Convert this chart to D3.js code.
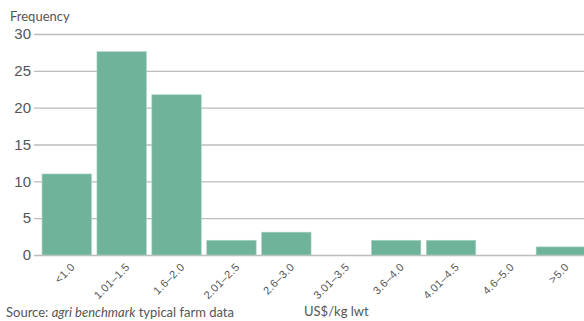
<!DOCTYPE html>
<html>
<head>
<meta charset="utf-8">
<script src="https://cdn.jsdelivr.net/npm/d3@7"></script>
<style>
  html, body { margin: 0; padding: 0; background: #fff; }
  svg { display: block; font-family: Lato, "Open Sans", sans-serif; }
</style>
</head>
<body>
<svg id="chart" width="584" height="321"></svg>
<script>
// Price bands (US$/kg liveweight) and number of typical farms in each
const categories = ["<1.0", "1.01–1.5", "1.6–2.0", "2.01–2.5", "2.6–3.0",
                    "3.01–3.5", "3.6–4.0", "4.01–4.5", "4.6–5.0", ">5.0"];
const frequency = [11, 27.6, 21.75, 2, 3.1, 0, 2, 2, 0, 1.1];
const yTicks = [0, 5, 10, 15, 20, 25, 30];

const svg = d3.select("#chart");
const barColor = "#6fb39a";
const gridColor = "#bdbdbd";
const textColor = "#555";

const x = d3.scaleBand()
  .domain(categories)
  .range([39.3, 588.3])
  .paddingInner(0.1)
  .paddingOuter(0.05);

const y = d3.scaleLinear()
  .domain([0, 30])
  .range([255, 34]);

// Horizontal gridlines with value labels
const yAxis = d3.axisLeft(y)
  .tickValues(yTicks)
  .tickSize(-(584 - 34))
  .tickPadding(5);

const gy = svg.append("g")
  .attr("transform", "translate(34,0)")
  .call(yAxis);
gy.select(".domain").remove();
gy.selectAll(".tick line")
  .attr("stroke", gridColor)
  .attr("stroke-width", 1.4);
gy.selectAll(".tick text")
  .attr("fill", textColor)
  .attr("font-size", 15)
  .attr("x", -3);

// Bars
svg.append("g")
  .selectAll("rect")
  .data(categories.map((c, i) => ({ c, v: frequency[i] })))
  .join("rect")
  .attr("x", d => x(d.c))
  .attr("y", d => y(d.v))
  .attr("width", x.bandwidth())
  .attr("height", d => y(0) - y(d.v))
  .attr("fill", barColor)
  .attr("stroke", "#a9d3c3")
  .attr("stroke-width", 0.6);

// Category labels, rotated
const gx = svg.append("g")
  .attr("transform", "translate(0,255)")
  .call(d3.axisBottom(x).tickSize(0).tickPadding(0));
gx.select(".domain").remove();
gx.selectAll(".tick text")
  .attr("fill", textColor)
  .attr("font-size", 11)
  .attr("letter-spacing", 0.3)
  .attr("text-anchor", "end")
  .attr("dy", "0.35em")
  .attr("transform", "translate(6,10) rotate(-45)");

// Axis titles
svg.append("text")
  .attr("x", 10)
  .attr("y", 21)
  .attr("fill", textColor)
  .attr("font-size", 13)
  .text("Frequency");

svg.append("text")
  .attr("x", 304)
  .attr("y", 316)
  .attr("fill", textColor)
  .attr("font-size", 13)
  .text("US$/kg lwt");

// Source note
const src = svg.append("text")
  .attr("x", 6)
  .attr("y", 317)
  .attr("fill", textColor)
  .attr("font-size", 13);
src.append("tspan").text("Source: ");
src.append("tspan").attr("font-style", "italic").text("agri benchmark");
src.append("tspan").text(" typical farm data");
</script>
</body>
</html>
